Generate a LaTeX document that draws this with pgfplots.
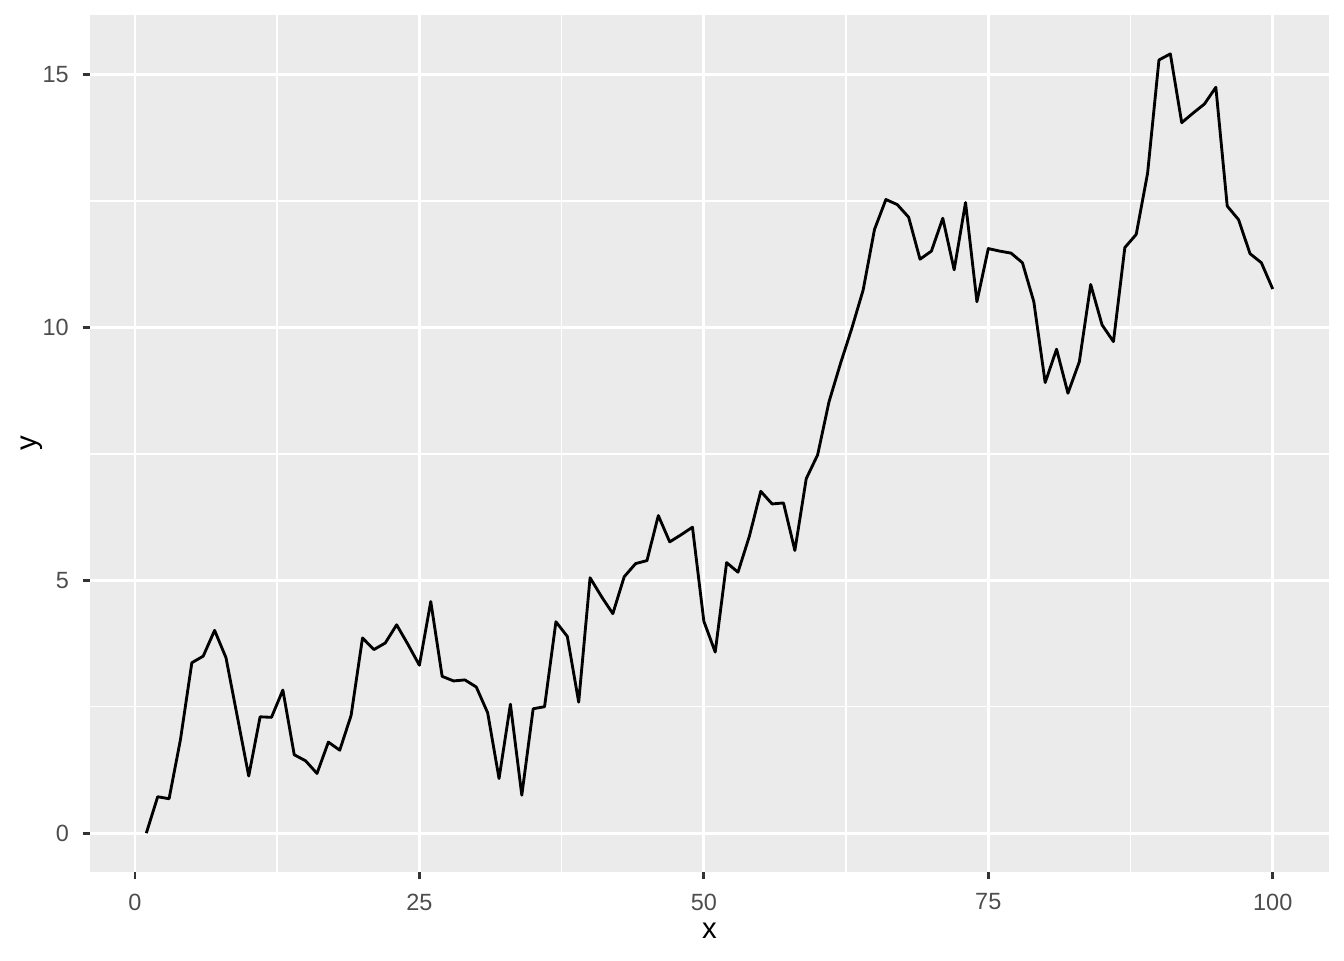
\documentclass[border=0pt]{standalone}
\usepackage{fontspec}
\setmainfont{Liberation Sans}
\usepackage{pgfplots}
\pgfplotsset{compat=1.18}
\definecolor{panelbg}{HTML}{EBEBEB}
\definecolor{grey30}{HTML}{4D4D4D}
\definecolor{grey20}{HTML}{333333}
\begin{document}
\begin{tikzpicture}
\begin{axis}[
  scale only axis, width=464.6pt, height=321.4pt,
  xmin=-3.95, xmax=104.95, ymin=-0.7705, ymax=16.1805,
  axis background/.style={fill=panelbg},
  axis line style={draw=none},
  xtick={0,25,50,75,100}, ytick={0,5,10,15},
  minor xtick={12.5,37.5,62.5,87.5}, minor ytick={2.5,7.5,12.5},
  grid=both,
  major grid style={white, line width=1.07pt},
  minor grid style={white, line width=0.53pt},
  tick align=outside, major tick length=2.75pt, minor tick length=0pt,
  tick style={grey20, line width=1.07pt},
  xtick pos=bottom, ytick pos=left,
  /pgf/number format/assume math mode=true,
  ticklabel style={font=\fontsize{8.8}{10}\selectfont, text=grey30, inner sep=0pt},
  xticklabel style={anchor=north, yshift=-5.2pt},
  yticklabel style={anchor=east, xshift=-5pt},
  xlabel={x}, ylabel={y},
  label style={font=\fontsize{11}{13}\selectfont, inner sep=0pt},
  xlabel style={at={(axis description cs:0.5,0)}, anchor=north, yshift=-18.8pt},
  ylabel style={at={(axis description cs:0,0.5)}, anchor=south, yshift=17.6pt},
  clip=true,
]
\addplot[black, line width=1.07pt, line join=round, mark=none] coordinates {
(1,0.00) (2,0.72) (3,0.68) (4,1.85) (5,3.37) (6,3.50) (7,4.01) (8,3.47) (9,2.30) (10,1.13)
(11,2.30) (12,2.29) (13,2.83) (14,1.55) (15,1.43) (16,1.18) (17,1.80) (18,1.64) (19,2.33) (20,3.86)
(21,3.63) (22,3.76) (23,4.12) (24,3.73) (25,3.32) (26,4.58) (27,3.10) (28,3.01) (29,3.03) (30,2.89)
(31,2.38) (32,1.08) (33,2.55) (34,0.75) (35,2.46) (36,2.50) (37,4.18) (38,3.89) (39,2.59) (40,5.05)
(41,4.68) (42,4.34) (43,5.07) (44,5.33) (45,5.39) (46,6.28) (47,5.76) (48,5.90) (49,6.05) (50,4.19)
(51,3.58) (52,5.35) (53,5.16) (54,5.87) (55,6.76) (56,6.51) (57,6.53) (58,5.59) (59,7.01) (60,7.48)
(61,8.53) (62,9.28) (63,9.98) (64,10.74) (65,11.94) (66,12.53) (67,12.43) (68,12.18) (69,11.35) (70,11.51)
(71,12.16) (72,11.14) (73,12.47) (74,10.51) (75,11.56) (76,11.51) (77,11.47) (78,11.28) (79,10.51) (80,8.91)
(81,9.57) (82,8.70) (83,9.32) (84,10.85) (85,10.05) (86,9.72) (87,11.58) (88,11.84) (89,13.05) (90,15.29)
(91,15.41) (92,14.05) (93,14.24) (94,14.42) (95,14.75) (96,12.40) (97,12.13) (98,11.46) (99,11.28) (100,10.76)
};
\end{axis}
\pgfresetboundingbox
\path[use as bounding box] ([shift={(-33.75pt,-33pt)}]current axis.south west) rectangle ([shift={(5.6pt,5.6pt)}]current axis.north east);
\end{tikzpicture}
\end{document}
